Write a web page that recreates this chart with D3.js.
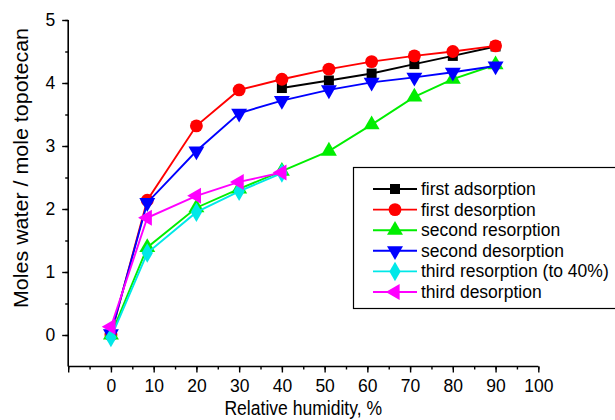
<!DOCTYPE html>
<html><head><meta charset="utf-8">
<script src="https://cdn.jsdelivr.net/npm/d3@7"></script>
<style>body{margin:0;background:#fff}svg{display:block}text{font-family:"Liberation Sans",Arial,sans-serif}</style>
</head><body>
<svg id="c" width="615" height="420"></svg>
<script>
const seriesNames = ["first adsorption","first desorption","second resorption","second desorption","third resorption (to 40%)","third desorption"];
const seriesColors = ["#000000","#ff0000","#00ee00","#0000ff","#00e8e8","#ff00ff"];
const seriesSymbols = ["square","circle","triUp","triDown","diamond","triLeft"];
const xFirstAds = [40,51,61,71,80,90];
const yFirstAds = [3.92,4.04,4.15,4.30,4.43,4.58];
const xFirstDes = [0,8.5,20,30,40,51,61,71,80,90];
const yFirstDes = [0.0,2.14,3.32,3.89,4.06,4.22,4.34,4.43,4.50,4.59];
const xSecondRes = [0,8.5,20,30,40,51,61,71,80,90];
const ySecondRes = [0.0,1.39,2.02,2.32,2.60,2.92,3.34,3.78,4.06,4.29];
const xSecondDes = [0,8.5,20,30,40,51,61,71,80,90];
const ySecondDes = [0.02,2.10,2.92,3.52,3.72,3.89,4.01,4.09,4.17,4.27];
const xThirdRes = [0,8.5,20,30,40];
const yThirdRes = [-0.04,1.30,1.95,2.28,2.57];
const xThirdDes = [0,8.5,20,30,40];
const yThirdDes = [0.13,1.86,2.21,2.43,2.58];
const xTicks = [0,10,20,30,40,50,60,70,80,90,100];
const yTicks = [0,1,2,3,4,5];
const xLabel = "Relative humidity, %";
const yLabel = "Moles water / mole topotecan";

const series = [
  [xFirstAds,yFirstAds],[xFirstDes,yFirstDes],[xSecondRes,ySecondRes],
  [xSecondDes,ySecondDes],[xThirdRes,yThirdRes],[xThirdDes,yThirdDes]
].map((s,i)=>({name:seriesNames[i],color:seriesColors[i],sym:seriesSymbols[i],
  pts:s[0].map((x,j)=>({x,y:s[1][j]}))}));

const svg = d3.select("#c");
const x = d3.scaleLinear().domain([-10,100]).range([68.2,538.3]);
const y = d3.scaleLinear().domain([-0.5,5]).range([366.5,20]);

// x axis
const xAxis = svg.append("g").attr("transform",`translate(0,${y(-0.5)})`);
xAxis.call(d3.axisBottom(x).tickValues(d3.range(-10,101,5)).tickSize(3).tickFormat(""))
  .call(g=>g.select(".domain").attr("stroke-width",1.6).attr("d",`M${x(-10)},0H${x(100)}`));
xAxis.append("g").call(d3.axisBottom(x).tickValues([-10].concat(xTicks)).tickSize(6).tickPadding(7).tickFormat(d=>d<0?"":d3.format("d")(d)))
  .call(g=>g.select(".domain").remove())
  .call(g=>g.selectAll("text").attr("font-size",17.5).attr("fill","#000").attr("font-family","Liberation Sans, Arial, sans-serif"));
xAxis.selectAll("line").attr("stroke-width",1.4);

// y axis
const yAxis = svg.append("g").attr("transform",`translate(${x(-10)},0)`);
yAxis.call(d3.axisLeft(y).tickValues(d3.range(0,5.01,0.5)).tickSize(3).tickFormat(""))
  .call(g=>g.select(".domain").attr("stroke-width",1.6).attr("d",`M0,${y(-0.5)}V${y(5)}`));
yAxis.append("g").call(d3.axisLeft(y).tickValues(yTicks).tickSize(6).tickPadding(7).tickFormat(d3.format("d")))
  .call(g=>g.select(".domain").remove())
  .call(g=>g.selectAll("text").attr("font-size",17.5).attr("fill","#000").attr("font-family","Liberation Sans, Arial, sans-serif"));
yAxis.selectAll("line").attr("stroke-width",1.4);

// labels
svg.append("text").attr("transform",`translate(${(x(-10)+x(100))/2},415) scale(0.9,1)`).attr("text-anchor","middle")
  .attr("font-size",19.5).text(xLabel);
svg.append("text").attr("transform",`translate(28,168) rotate(-90) scale(1.1,1)`).attr("text-anchor","middle")
  .attr("font-size",19.5).text(yLabel);

const symGen = {
  square: d3.symbol().type(d3.symbolSquare).size(100),
  circle: d3.symbol().type(d3.symbolCircle).size(130),
  diamond: d3.symbol().type(d3.symbolDiamond).size(110),
  tri: d3.symbol().type(d3.symbolTriangle).size(110)
};
function drawSym(g,sym,cx,cy,color){
  let path, rot=0;
  if(sym==="triUp"){path=symGen.tri();}
  else if(sym==="triDown"){path=symGen.tri();rot=180;}
  else if(sym==="triLeft"){path=symGen.tri();rot=-90;}
  else path=symGen[sym]();
  g.append("path").attr("d",path).attr("fill",color).attr("stroke","none")
    .attr("transform",`translate(${cx},${cy}) rotate(${rot})`);
}

const line = d3.line().x(d=>x(d.x)).y(d=>y(d.y));
series.forEach(s=>{
  const g = svg.append("g");
  g.append("path").attr("d",line(s.pts)).attr("fill","none").attr("stroke",s.color).attr("stroke-width",1.9);
  s.pts.forEach(p=>drawSym(g,s.sym,x(p.x),y(p.y),s.color));
});

// legend
const lg = svg.append("g");
lg.append("rect").attr("x",353.5).attr("y",167.5).attr("width",270).attr("height",141)
  .attr("fill","#fff").attr("stroke","#000").attr("stroke-width",1.2);
series.forEach((s,i)=>{
  const ly = 189 + i*20.6;
  lg.append("line").attr("x1",373).attr("x2",417).attr("y1",ly).attr("y2",ly).attr("stroke",s.color).attr("stroke-width",1.9);
  drawSym(lg,s.sym,395,ly,s.color);
  lg.append("text").attr("x",421).attr("y",ly+6).attr("font-size",17.5).text(s.name);
});
</script>
</body></html>
